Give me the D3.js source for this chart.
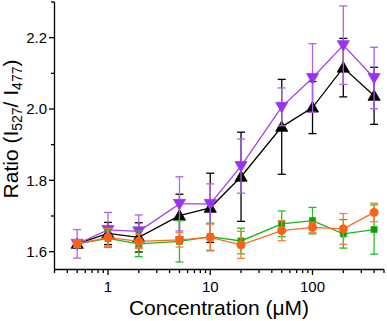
<!DOCTYPE html>
<html>
<head>
<meta charset="utf-8">
<script src="https://cdn.jsdelivr.net/npm/d3@7/dist/d3.min.js"></script>
<style>
  html, body { margin: 0; padding: 0; background: #fff; }
  svg { display: block; font-family: "Liberation Sans", Arial, sans-serif; }
</style>
</head>
<body>
<svg id="chart" width="387" height="321"></svg>
<script>
// Concentrations (µM)
const concentrations = [0.5, 1, 2, 5, 10, 20, 50, 100, 200, 400];

// Ratio I527/I477 per series, with symmetric error half-widths
const blackValues  = [1.622, 1.651, 1.640, 1.701, 1.723, 1.810, 1.950, 2.004, 2.116, 2.037];
const blackErrors  = [0.008, 0.031, 0.041, 0.060, 0.097, 0.125, 0.133, 0.073, 0.082, 0.080];
const purpleValues = [1.622, 1.661, 1.657, 1.734, 1.734, 1.840, 2.006, 2.087, 2.179, 2.087];
const purpleErrors = [0.040, 0.049, 0.046, 0.076, 0.056, 0.076, 0.053, 0.096, 0.110, 0.086];
const greenValues  = [1.622, 1.637, 1.622, 1.629, 1.642, 1.630, 1.678, 1.687, 1.650, 1.662];
const greenErrors  = [0.010, 0.022, 0.036, 0.058, 0.038, 0.036, 0.036, 0.037, 0.040, 0.069];
const orangeValues = [1.622, 1.640, 1.629, 1.633, 1.640, 1.619, 1.659, 1.668, 1.664, 1.710];
const orangeErrors = [0.010, 0.025, 0.020, 0.020, 0.038, 0.038, 0.028, 0.015, 0.043, 0.026];

const xTickLabels = [1, 10, 100];
const yTickLabels = [1.6, 1.8, 2.0, 2.2];

const series = [
  { name: "black",  values: blackValues,  errors: blackErrors,  line: "#000000", fill: "#000000", bar: "#000000", shape: d3.symbolTriangle, size: 64, rot: 0 },
  { name: "purple", values: purpleValues, errors: purpleErrors, line: "#a23ff2", fill: "#9b30f0", bar: "#b060f5", shape: d3.symbolTriangle, size: 64, rot: 180 },
  { name: "green",  values: greenValues,  errors: greenErrors,  line: "#1cb41c", fill: "#109a10", bar: "#26c026", shape: d3.symbolSquare,   size: 38, rot: 0 },
  { name: "orange", values: orangeValues, errors: orangeErrors, line: "#ff6a1c", fill: "#f5621a", bar: "#ff7a36", shape: d3.symbolCircle,   size: 52, rot: 0 }
];

const svg = d3.select("#chart");
const x = d3.scaleLog().domain([0.3, 500]).range([54.5, 384]);
const y = d3.scaleLinear().domain([1.55, 2.3]).range([269.5, 2]);

// Axes: major/minor ticks pointing outward
const axisG = svg.append("g").attr("stroke", "#000").attr("stroke-width", 1.3);
axisG.append("line").attr("x1", x.range()[0]).attr("x2", x.range()[1])
  .attr("y1", y.range()[0]).attr("y2", y.range()[0]);
axisG.append("line").attr("x1", x.range()[0]).attr("x2", x.range()[0])
  .attr("y1", y.range()[0]).attr("y2", y.range()[1]);

const xMinor = [];
[0.1, 1, 10, 100].forEach(dec => { for (let k = 1; k <= 9; k++) { const v = dec * k; if (v >= 0.3 && v <= 500) xMinor.push(v); } });
xMinor.forEach(v => {
  const major = xTickLabels.includes(v);
  axisG.append("line").attr("x1", x(v)).attr("x2", x(v))
    .attr("y1", y.range()[0]).attr("y2", y.range()[0] + (major ? 5.5 : 3.5));
});
const yMinor = [1.7, 1.9, 2.1, 2.3];
yTickLabels.concat(yMinor).forEach(v => {
  const major = yTickLabels.includes(v);
  axisG.append("line").attr("y1", y(v)).attr("y2", y(v))
    .attr("x1", x.range()[0]).attr("x2", x.range()[0] - (major ? 5.5 : 3.5));
});

svg.append("g").selectAll("text").data(xTickLabels).join("text")
  .attr("x", d => x(d)).attr("y", 292).attr("text-anchor", "middle")
  .attr("font-size", 15).text(d => d);
svg.append("g").selectAll("text").data(yTickLabels).join("text")
  .attr("x", 47).attr("y", d => y(d) + 5.3).attr("text-anchor", "end")
  .attr("font-size", 15).text(d => d.toFixed(1));

// Axis titles
svg.append("text").attr("x", 219).attr("y", 315).attr("text-anchor", "middle")
  .attr("font-size", 21).text("Concentration (μM)");

const yl = svg.append("text").attr("transform", "translate(18,129) rotate(-90)")
  .attr("text-anchor", "middle").attr("font-size", 21);
yl.append("tspan").text("Ratio (I");
yl.append("tspan").attr("font-size", 14).attr("dy", 4).text("527");
yl.append("tspan").attr("dy", -4).text("/ I");
yl.append("tspan").attr("font-size", 14).attr("dy", 4).text("477");
yl.append("tspan").attr("dy", -4).text(")");

// Series: error bars, connecting lines, markers
const line = d3.line().x(d => x(d.c)).y(d => y(d.v));
series.forEach(s => {
  const pts = concentrations.map((c, i) => ({ c, v: s.values[i], e: s.errors[i] }));
  const g = svg.append("g");
  const eb = g.append("g").attr("stroke", s.bar).attr("stroke-width", 1.3).attr("fill", "none");
  pts.forEach(p => {
    const cx = x(p.c), y0 = y(p.v - p.e), y1 = y(p.v + p.e);
    eb.append("line").attr("x1", cx).attr("x2", cx).attr("y1", y0).attr("y2", y1);
    eb.append("line").attr("x1", cx - 4).attr("x2", cx + 4).attr("y1", y0).attr("y2", y0);
    eb.append("line").attr("x1", cx - 4).attr("x2", cx + 4).attr("y1", y1).attr("y2", y1);
  });
  g.append("path").datum(pts).attr("d", line).attr("fill", "none")
    .attr("stroke", s.line).attr("stroke-width", 1.3);
  const sym = d3.symbol().type(s.shape).size(s.size);
  g.selectAll("path.m").data(pts).join("path").attr("class", "m")
    .attr("d", sym)
    .attr("transform", d => `translate(${x(d.c)},${y(d.v) + (s.shape === d3.symbolTriangle ? (s.rot ? -1 : 1) : 0)}) rotate(${s.rot})`)
    .attr("fill", s.fill).attr("stroke", s.line).attr("stroke-width", 0.8);
});
</script>
</body>
</html>
